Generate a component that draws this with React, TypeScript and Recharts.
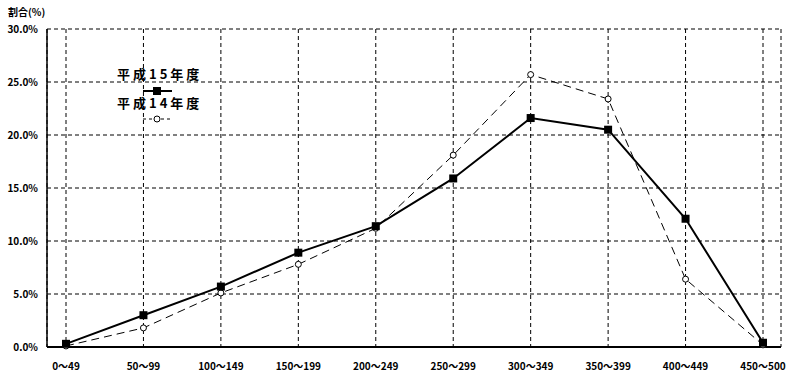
import React from 'react';
import { LineChart, Line, XAxis, YAxis, CartesianGrid } from 'recharts';

const categories = ['0～49', '50～99', '100～149', '150～199', '200～249', '250～299', '300～349', '350～399', '400～449', '450～500'];
const h15 = [0.3, 3.0, 5.7, 8.9, 11.4, 15.9, 21.6, 20.5, 12.1, 0.4];
const h14 = [0.1, 1.8, 5.1, 7.8, 11.2, 18.1, 25.7, 23.4, 6.4, 0.2];
const yTicks = [0, 5, 10, 15, 20, 25, 30];

const data = categories.map((name, i) => ({ name, h15: h15[i], h14: h14[i] }));

const font = '"Noto Sans CJK JP", sans-serif';

const SquareDot = ({ cx, cy }: any) => (
  <rect x={cx - 4} y={cy - 4} width={8} height={8} fill="#000" />
);

const CircleDot = ({ cx, cy }: any) => (
  <circle cx={cx} cy={cy} r={3} fill="#fff" stroke="#000" strokeWidth={1} />
);

// legend drawn over the plot, like the original
const LegendBox = () => (
  <svg width={95} height={65} style={{ fontFamily: font, display: 'block' }}>
    <text x={2} y={19} fontSize={13} letterSpacing={3} fontWeight="bold" fill="#000">平成15年度</text>
    <line x1={28} x2={57} y1={31} y2={31} stroke="#000" strokeWidth={2} />
    <rect x={38} y={27} width={8} height={8} fill="#000" />
    <text x={2} y={48} fontSize={13} letterSpacing={3} fontWeight="bold" fill="#000">平成14年度</text>
    <line x1={28} x2={57} y1={59} y2={59} stroke="#000" strokeDasharray="3 3" />
    <circle cx={42} cy={59} r={3} fill="#fff" stroke="#000" />
  </svg>
);

const App = () => {
  return (
    <div style={{ position: 'absolute', left: 0, top: 0, width: 807, height: 378, background: '#fff' }}>
      <div style={{ position: 'absolute', left: 8, top: 4, fontFamily: font, fontSize: 10, fontWeight: 'bold' }}>割合(%)</div>
      <LineChart width={807} height={378} data={data} margin={{ top: 29, right: 26, bottom: 0, left: 0 }}>
        <CartesianGrid stroke="#000" strokeDasharray="4 3" />
        <XAxis
          dataKey="name"
          height={31}
          padding={{ left: 19, right: 18 }}
          axisLine={{ stroke: '#000', strokeWidth: 2 }}
          tickLine={false}
          tickSize={0}
          tickMargin={16}
          interval={0}
          tick={{ fill: '#000', fontSize: 10, fontWeight: 'bold', fontFamily: font }}
        />
        <YAxis
          width={47}
          domain={[0, 30]}
          ticks={yTicks}
          tickFormatter={(v: number) => `${v.toFixed(1)}%`}
          axisLine={{ stroke: '#000', strokeWidth: 1.5 }}
          tickLine={false}
          tickSize={0}
          tickMargin={9}
          tick={{ fill: '#000', fontSize: 10, fontWeight: 'bold', fontFamily: font }}
        />
        <YAxis yAxisId="r" orientation="right" width={0} domain={[0, 30]} ticks={yTicks} tick={false} tickLine={false} axisLine={{ stroke: '#000', strokeWidth: 1.5 }} />
        <Line
          type="linear"
          dataKey="h14"
          stroke="#000"
          strokeWidth={1}
          strokeDasharray="8 5"
          dot={<CircleDot />}
          isAnimationActive={false}
        />
        <Line
          type="linear"
          dataKey="h15"
          stroke="#000"
          strokeWidth={2}
          dot={<SquareDot />}
          isAnimationActive={false}
        />
      </LineChart>
      <div style={{ position: 'absolute', left: 115, top: 60 }}>
        <LegendBox />
      </div>
    </div>
  );
};

export default App;
